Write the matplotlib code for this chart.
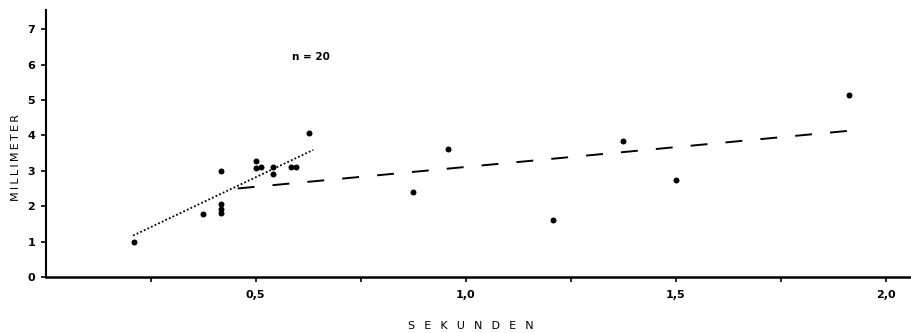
import matplotlib
matplotlib.use('Agg')
import matplotlib.pyplot as plt
import numpy as np

# data (seconds vs. millimetres), n = 20
sekunden = [0.21, 0.375, 0.417, 0.417, 0.417, 0.417, 0.50, 0.50, 0.512,
            0.542, 0.542, 0.583, 0.596, 0.626, 0.874, 0.958, 1.208,
            1.374, 1.50, 1.913]
millimeter = [0.98, 1.77, 3.0, 2.05, 1.92, 1.8, 3.28, 3.07, 3.1,
              3.12, 2.9, 3.1, 3.12, 4.08, 2.4, 3.62, 1.61,
              3.85, 2.73, 5.14]

# regression lines (end points as drawn in the reference)
dotted_x = [0.208, 0.637]
dotted_y = [1.17, 3.59]
dashed_x = [0.457, 1.913]
dashed_y = [2.50, 4.13]

x_major = [0.5, 1.0, 1.5, 2.0]
x_major_labels = ['0,5', '1,0', '1,5', '2,0']
x_minor = [0.25, 0.75, 1.25, 1.75]
y_ticks = [0, 1, 2, 3, 4, 5, 6, 7]

plt.rcParams['font.family'] = ['DejaVu Sans']

fig = plt.figure(figsize=(9.11, 3.33), dpi=100)
ax = fig.add_axes([45.7 / 911, 56 / 333, 865.3 / 911, 267 / 333])

ax.plot(sekunden, millimeter, 'o', color='black', markersize=4.3,
        markeredgewidth=0)
ax.plot(dotted_x, dotted_y, color='black', linewidth=1.3,
        linestyle=(0, (1.0, 1.2)))
ax.plot(dashed_x, dashed_y, color='black', linewidth=1.4,
        linestyle=(0, (8.7, 9.3)))

ax.text(0.586, 6.21, 'n = 20', fontsize=7.5, ha='left', va='center',
        fontweight='bold')

ax.set_xlim(0, 2.06)
ax.set_ylim(0, 7.54)

ax.spines['top'].set_visible(False)
ax.spines['right'].set_visible(False)
ax.spines['left'].set_linewidth(1.5)
ax.spines['bottom'].set_linewidth(1.8)

ax.set_xticks(x_major)
ax.set_xticklabels(x_major_labels)
ax.set_xticks(x_minor, minor=True)
ax.set_yticks(y_ticks)
ax.tick_params(axis='both', which='both', direction='out', length=3.5,
               width=1.2, labelsize=8, colors='black')
ax.tick_params(axis='x', pad=6)
ax.tick_params(axis='y', pad=4)
for lab in ax.get_xticklabels() + ax.get_yticklabels():
    lab.set_fontweight('bold')

# letter-spaced axis titles as in the original print
ax.set_ylabel('\u2009'.join('MILLIMETER'), fontsize=8)
ax.yaxis.set_label_coords(-0.029, 0.446)
ax.set_xlabel(' \u2002'.join('SEKUNDEN'), fontsize=8)
ax.xaxis.set_label_coords(0.4915, -0.165)

plt.savefig('out.png', dpi=100)
